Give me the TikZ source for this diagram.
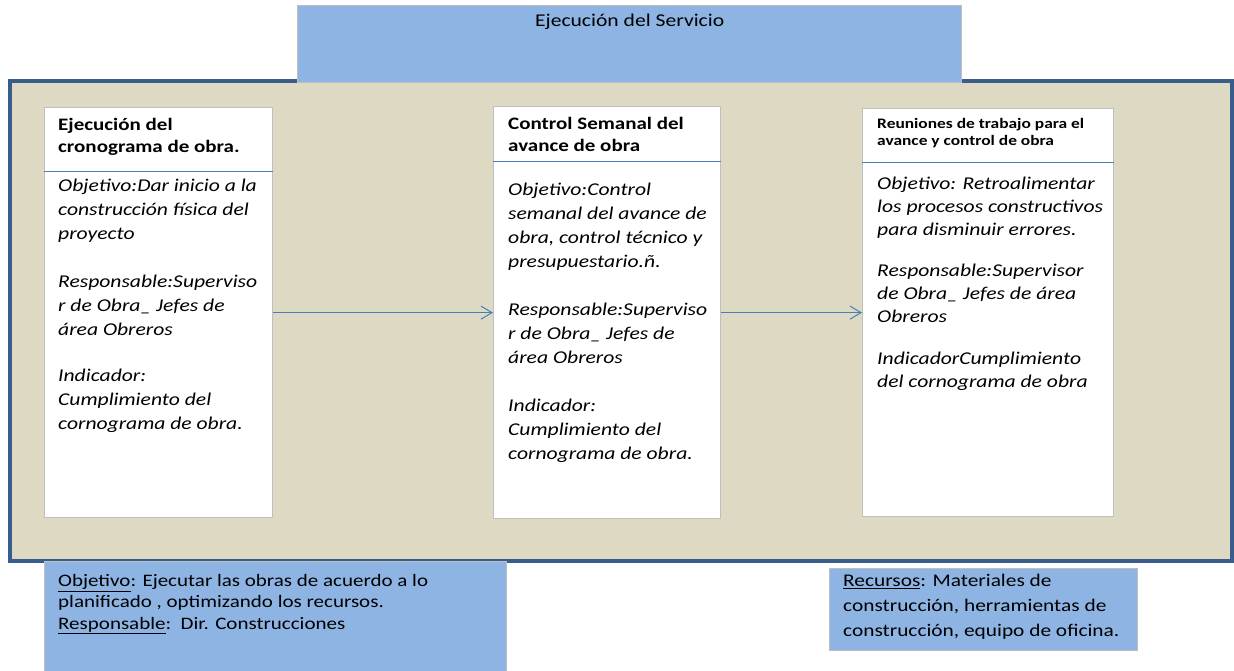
\documentclass[tikz,border=0pt]{standalone}
\usepackage{fontspec}
\setmainfont{Carlito}[FakeStretch=1.2]
\usetikzlibrary{positioning}
\usetikzlibrary{arrows.meta}
\definecolor{beige}{HTML}{DDD9C3}
\definecolor{cielo}{HTML}{8EB4E3}
\definecolor{marino}{HTML}{385D8A}
\definecolor{linea}{HTML}{4A7EBB}
\definecolor{gris}{HTML}{BFBFBF}

\begin{document}
\begin{tikzpicture}[x=1pt,y=-1pt,
    marco/.style={draw=marino,line width=4pt,fill=beige},
    caja/.style={draw=gris,line width=1.3pt,fill=cielo,inner sep=0pt,anchor=north west},
    tarjeta/.style={draw=gris,line width=1.3pt,fill=white,inner sep=0pt,anchor=north west},
    titulo/.style={font=\fontsize{17.5}{22}\selectfont\bfseries,align=left,inner sep=0pt},
    cuerpo/.style={font=\fontsize{18}{24}\selectfont\itshape,align=left,inner sep=0pt},
    nota/.style={align=left,inner sep=0pt},
    separa/.style={draw=linea,line width=1pt},
    flecha/.style={draw=linea,line width=1pt,-{Straight Barb[length=11pt,width=13pt]}}]
        \useasboundingbox (0,0) rectangle (1234,671);
        \draw[marco] (9.5,81) rectangle (1231.5,560.5);
        \node[caja,minimum width=664pt,minimum height=77pt] (servicio) at (297,5) {};
        \node[font=\fontsize{18}{22}\selectfont,inner sep=0pt,below=9pt of servicio.north] (tservicio) {Ejecución del Servicio};

        \node[tarjeta,minimum width=228pt,minimum height=410pt] (cronograma) at (44,107) {};
        \node[tarjeta,minimum width=227pt,minimum height=412pt] (semanal) at (493,106) {};
        \node[tarjeta,minimum width=251pt,minimum height=408pt] (reuniones) at (862,108) {};

        \draw[separa] ([yshift=-65pt]cronograma.north west) -- ([yshift=-65pt]cronograma.north east);
        \draw[separa] ([yshift=-56pt]semanal.north west) -- ([yshift=-56pt]semanal.north east);
        \draw[separa] ([yshift=-55pt]reuniones.north west) -- ([yshift=-55pt]reuniones.north east);

        \node[titulo,below right=11pt and 14pt of cronograma.north west] (tcronograma)
            {Ejecución del\\cronograma de obra.};
        \node[cuerpo,below right=72pt and 14pt of cronograma.north west] (bcronograma)
            {Objetivo:Dar inicio a la\\construcción física del\\proyecto\\[24pt]
             Responsable:Superviso\\r de Obra\_ Jefes de\\área Obreros\\[22pt]
             Indicador:\\Cumplimiento del\\cornograma de obra.};

        \node[titulo,below right=11pt and 15pt of semanal.north west] (tsemanal)
            {Control Semanal del\\avance de obra};
        \node[cuerpo,below right=77pt and 15pt of semanal.north west] (bsemanal)
            {Objetivo:Control\\semanal del avance de\\obra, control técnico y\\presupuestario.ñ.\\[24pt]
             Responsable:Superviso\\r de Obra\_ Jefes de\\área Obreros\\[24pt]
             Indicador:\\Cumplimiento del\\cornograma de obra.};

        \node[titulo,font=\fontsize{14.5}{17}\selectfont\bfseries,below right=10pt and 15pt of reuniones.north west] (treuniones)
            {Reuniones de trabajo para el\\avance y control de obra};
        \node[cuerpo,font=\fontsize{18}{23}\selectfont\itshape,below right=69pt and 15pt of reuniones.north west] (breuniones)
            {Objetivo: Retroalimentar\\los procesos constructivos\\para disminuir errores.\\[18pt]
             Responsable:Supervisor\\de Obra\_ Jefes de área\\Obreros\\[19pt]
             IndicadorCumplimiento\\del cornograma de obra};

        \draw[flecha] (cronograma) -- (semanal);
        \draw[flecha] (semanal) -- (reuniones);

        \node[caja,minimum width=462pt,minimum height=112pt] (objetivo) at (44,561) {};
        \node[nota,font=\fontsize{17.5}{21.5}\selectfont,below right=13pt and 14pt of objetivo.north west] (tobjetivo)
            {\underline{Objetivo}: Ejecutar las obras de acuerdo a lo\\planificado , optimizando los recursos.\\
             \underline{Responsable}:\ \ Dir. Construcciones};

        \node[caja,minimum width=308pt,minimum height=82pt] (recursos) at (829,568) {};
        \node[nota,font=\fontsize{17.8}{25}\selectfont,below right=6pt and 14pt of recursos.north west] (trecursos)
            {\underline{Recursos}: Materiales de\\construcción, herramientas de\\construcción, equipo de oficina.};
\end{tikzpicture}
\end{document}
